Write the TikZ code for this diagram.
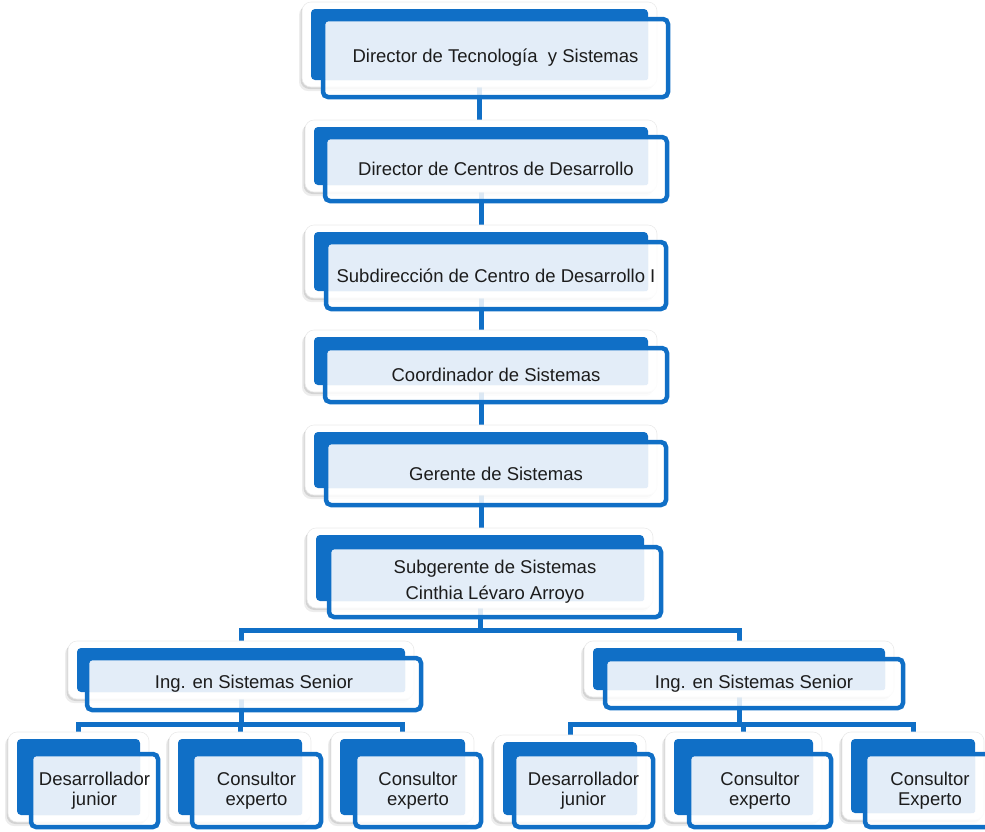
\documentclass[tikz,border=0pt]{standalone}
\usepackage{fontspec}
\setmainfont{Liberation Sans}
\usetikzlibrary{fit,shadows}
\definecolor{obblue}{RGB}{16,111,198}
\definecolor{oblight}{RGB}{227,237,248}
\definecolor{obtext}{RGB}{28,28,28}
\pgfdeclarelayer{bg}
\pgfsetlayers{bg,main}
\tikzset{
  haloframe/.style={fill=white, draw=black!8, line width=0.6pt, rounded corners=9pt,
    drop shadow={shadow xshift=-3pt, shadow yshift=-4pt, opacity=0.10, fill=black!70},
    drop shadow={shadow xshift=-1.5pt, shadow yshift=-2pt, opacity=0.16, fill=black!70}},
  backbox/.style={fill=obblue, rounded corners=4pt, inner sep=0pt, outer sep=0pt, draw=none},
  frontbox/.style={draw=obblue, line width=4.5pt, rounded corners=5pt, inner sep=0pt, outer sep=0pt},
  lbl/.style={text=obtext, font=\fontsize{18.5}{20}\selectfont, align=center, inner sep=0pt},
  conn/.style={draw=obblue, line width=5pt},
}
% #1 name, #2-#5 back rect L T R B, #6-#9 front rect L T R B
\newcommand{\OrgBox}[9]{%
  \path[haloframe] (#2-9,#3-7) rectangle (#4+9,#5+7);
  \node[backbox, fit={(#2,#3) (#4,#5)}] (#1b) {};
  \fill[white, fill opacity=0.85, rounded corners=5pt] (#6,#7) rectangle (#8,#9);
  \fill[oblight, rounded corners=1.5pt] (#6+2,#7+2) rectangle (#4,#5);
  \node[frontbox, fit={(#6,#7) (#8,#9)}] (#1) {};
}
\begin{document}
\begin{tikzpicture}[x=1pt,y=-1pt]
\useasboundingbox (0,0) rectangle (985,831);
% main chain
\OrgBox{m1}{311}{9}{648}{80}{323}{19}{668}{97}
\OrgBox{m2}{314}{127}{648}{185}{325}{137}{667}{201}
\OrgBox{m3}{314}{232}{648}{291}{326}{242}{666}{309}
\OrgBox{m4}{314}{337}{648}{385}{325}{348}{667}{402}
\OrgBox{m5}{314}{432}{648}{488}{326}{442}{666}{505}
\OrgBox{m6}{316}{535}{644}{601}{329}{547}{661}{617}
% seniors
\OrgBox{sL}{77}{648}{405}{692}{87}{658}{421}{710}
\OrgBox{sR}{593}{648}{885}{690}{605}{659}{903}{708}
% leaves
\OrgBox{l1}{17}{739}{140}{815}{31}{754}{158}{827}
\OrgBox{l2}{178}{739}{302}{815}{192}{754}{321}{827}
\OrgBox{l3}{340}{739}{465}{815}{355}{754}{481}{827}
\OrgBox{l4}{503}{742}{637}{815}{514}{754}{653}{827}
\OrgBox{l5}{674}{739}{813}{815}{689}{754}{831}{827}
\OrgBox{l6}{851}{739}{975}{813}{865}{754}{995}{827}
% texts
\node[lbl] (t1) at (m1.center) {Director de Tecnología~ y Sistemas};
\node[lbl] (t2) at (m2.center) {Director de Centros de Desarrollo};
\node[lbl] (t3) at (m3.center) {Subdirección de Centro de Desarrollo I};
\node[lbl] (t4) at (m4.center) {Coordinador de Sistemas};
\node[lbl] (t5) at (m5.center) {Gerente de Sistemas};
\node[lbl, font=\fontsize{18.5}{26}\selectfont] (t6) at (m6.center) {Subgerente de Sistemas\\Cinthia Lévaro Arroyo};
\node[lbl] (tsL) at (sL.center) {Ing. en Sistemas Senior};
\node[lbl] (tsR) at (sR.center) {Ing. en Sistemas Senior};
\node[lbl] (tl1) at (l1.center) {Desarrollador\\junior};
\node[lbl] (tl2) at (l2.center) {Consultor\\experto};
\node[lbl] (tl3) at (l3.center) {Consultor\\experto};
\node[lbl] (tl4) at (l4.center) {Desarrollador\\junior};
\node[lbl] (tl5) at (l5.center) {Consultor\\experto};
\node[lbl] (tl6) at (l6.center) {Consultor\\Experto};
% connectors
\coordinate (j1) at (480,630);
\coordinate (j2) at (240,724);
\coordinate (j3) at (742,724);
\begin{pgfonlayer}{bg}
\draw[conn] (m1b.south) -- (m1b.south |- m2b.north);
\draw[conn] (m2b.south) -- (m2b.south |- m3b.north);
\draw[conn] (m3b.south) -- (m3b.south |- m4b.north);
\draw[conn] (m4b.south) -- (m4b.south |- m5b.north);
\draw[conn] (m5b.south) -- (m5b.south |- m6b.north);
\draw[conn] (m6b.south) -- (m6b.south |- j1);
\draw[conn] (sLb.north) |- (j1) -| (sRb.north);
\draw[conn] (sLb.south) -- (sLb.south |- j2);
\draw[conn] (l1b.north) |- (j2) -| (l3b.north);
\draw[conn] (l2b.north) -- (l2b.north |- j2);
\draw[conn] (sRb.south) -- (sRb.south |- j3);
\draw[conn] (l4b.north) |- (j3) -| (l6b.north);
\draw[conn] (l5b.north) -- (l5b.north |- j3);
\end{pgfonlayer}
\end{tikzpicture}
\end{document}
